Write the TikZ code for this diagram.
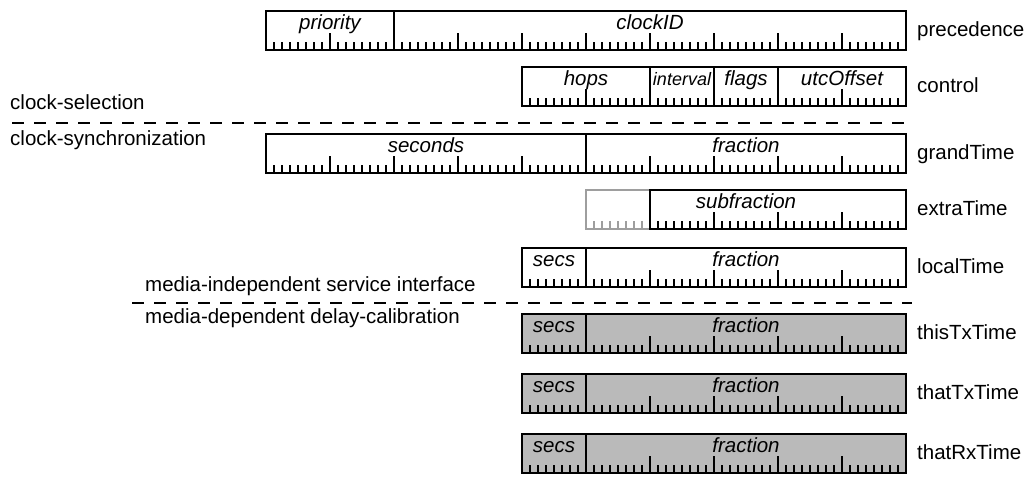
\documentclass[tikz,border=0pt]{standalone}
\usepackage{fontspec}
\setmainfont{Liberation Sans}
\definecolor{boxfill}{gray}{0.73}
\definecolor{faint}{gray}{0.62}
\tikzset{
  box/.style={line width=1.8pt, line join=miter},
  tick/.style={line width=1.2pt},
  field/.style={font=\fontsize{20.5}{24}\selectfont\itshape, anchor=base, inner sep=0pt},
  rowlabel/.style={font=\fontsize{20.5}{24}\selectfont, anchor=base west, inner sep=0pt},
  layerlabel/.style={font=\fontsize{20.5}{24}\selectfont, anchor=base west, inner sep=0pt},
  divider/.style={line width=1.8pt, dash pattern=on 12pt off 10pt},
}
% #1 x0, #2 number of bytes, #3 top y, #4 extra style
\newcommand{\bitticks}[4]{%
  \pgfmathtruncatemacro\nb{#2-1}%
  \foreach \bb in {0,...,\nb}{%
    \foreach \kk in {1,...,7}{%
      \draw[tick,#4] ({#1+64*\bb+8*\kk},{#3+39}) -- ++(0,-8);
    }%
    \ifnum\bb>0
      \draw[tick,#4] ({#1+64*\bb},{#3+39}) -- ++(0,-17);
    \fi
  }%
}
\begin{document}
\begin{tikzpicture}[x=1pt,y=-1pt]
\useasboundingbox (0,0) rectangle (1030,485);

% ---------- precedence ----------
\bitticks{266}{10}{11}{}
\draw[box] (266,11) rectangle (906,50);
\draw[box] (394,11) -- (394,50);
\node[field] (priority) at (330,29.5) {priority};
\node[field] (clockID) at (650,29.5) {clockID};
\node[rowlabel] (precedence) at (917,36) {precedence};

% ---------- control ----------
\bitticks{522}{6}{67}{}
\draw[box] (522,67) rectangle (906,106);
\draw[box] (650,67) -- (650,106) (714,67) -- (714,106) (778,67) -- (778,106);
\node[field] (hops) at (586,85.5) {hops};
\node[field, font=\fontsize{18}{22}\selectfont\itshape] (interval) at (682,85.5) {interval};
\node[field] (flags) at (746,85.5) {flags};
\node[field] (utcOffset) at (842,85.5) {utcOffset};
\node[rowlabel] (control) at (917,92) {control};

% ---------- layer divider 1 ----------
\node[layerlabel] (clocksel) at (10,109) {clock-selection};
\coordinate (d1a) at (12,123);
\coordinate (d1b) at (912,123);
\draw[divider] (d1a) -- (d1b);
\node[layerlabel] (clocksync) at (10,145) {clock-synchronization};

% ---------- grandTime ----------
\bitticks{266}{10}{134}{}
\draw[box] (266,134) rectangle (906,173);
\draw[box] (586,134) -- (586,173);
\node[field] (seconds) at (426,152.5) {seconds};
\node[field] (gfraction) at (746,152.5) {fraction};
\node[rowlabel] (grandTime) at (917,159) {grandTime};

% ---------- extraTime ----------
\bitticks{586}{1}{190}{faint}
\draw[box,faint] (650,190) -- (586,190) -- (586,229) -- (650,229);
\bitticks{650}{4}{190}{}
\draw[box] (650,190) rectangle (906,229);
\node[field] (subfraction) at (746,208.5) {subfraction};
\node[rowlabel] (extraTime) at (917,215) {extraTime};

% ---------- localTime ----------
\bitticks{522}{6}{248}{}
\draw[box] (522,248) rectangle (906,287);
\draw[box] (586,248) -- (586,287);
\node[field] (lsecs) at (554,266.5) {secs};
\node[field] (lfraction) at (746,266.5) {fraction};
\node[rowlabel] (localTime) at (917,273) {localTime};

% ---------- layer divider 2 ----------
\node[layerlabel] (mis) at (145,291) {media-independent service interface};
\coordinate (d2a) at (132,303);
\coordinate (d2b) at (912,303);
\draw[divider] (d2a) -- (d2b);
\node[layerlabel] (mdd) at (145,323) {media-dependent delay-calibration};

% ---------- shaded timestamps ----------
\foreach \yt/\nm/\lab in {314/thisTx/thisTxTime, 374/thatTx/thatTxTime, 434/thatRx/thatRxTime}{
  \fill[boxfill] (522,\yt) rectangle (906,\yt+39);
  \bitticks{522}{6}{\yt}{}
  \draw[box] (522,\yt) rectangle (906,\yt+39);
  \draw[box] (586,\yt) -- (586,\yt+39);
  \node[field] (\nm secs) at (554,\yt+18.5) {secs};
  \node[field] (\nm fraction) at (746,\yt+18.5) {fraction};
  \node[rowlabel] (\nm label) at (917,\yt+25) {\lab};
}
\end{tikzpicture}
\end{document}
